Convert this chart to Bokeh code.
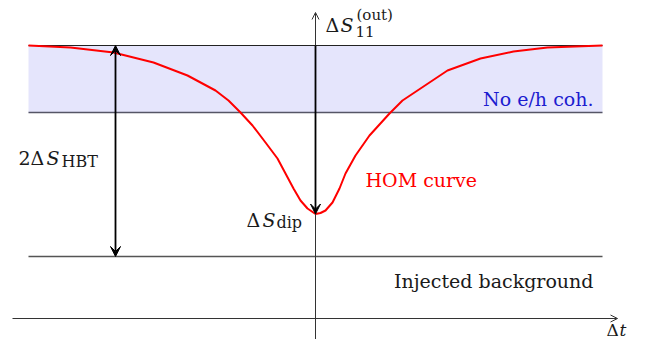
from bokeh.plotting import figure
from bokeh.models import Range1d, Arrow, OpenHead, VeeHead, Label
from bokeh.embed import file_html
from bokeh.resources import INLINE

# ---- data (t: delay, S: noise, arbitrary units) ----
hom_t = [-2.87, -2.45, -2.02, -1.62, -1.28, -1.00, -0.87, -0.75, -0.63, -0.50,
         -0.38, -0.30, -0.22, -0.15, -0.08, 0.0, 0.05, 0.10, 0.17, 0.24,
         0.30, 0.40, 0.54, 0.74, 0.87, 1.02, 1.32, 1.65, 1.98, 2.32, 2.87]
hom_s = [2.73, 2.71, 2.66, 2.56, 2.43, 2.28, 2.18, 2.06, 1.93, 1.76,
         1.60, 1.45, 1.30, 1.18, 1.10, 1.045, 1.055, 1.08, 1.16, 1.30,
         1.45, 1.63, 1.83, 2.05, 2.18, 2.28, 2.48, 2.60, 2.67, 2.71, 2.73]

level_no_coh_top = 2.73      # plateau (no e/h coherence, upper edge)
level_no_coh_bottom = 2.06   # lower edge of the "No e/h coh." band
level_background = 0.62      # injected background
level_dip = 1.045            # HOM dip value
t_span = [-2.87, 2.87]       # horizontal extent of the level lines
t_hbt = -2.0                 # position of the 2ΔS_HBT arrow
t_axis = [-3.03, 3.02]
s_axis = [-0.29, 3.06]

TXT = "#1a1a1a"
FONT = "DejaVu Serif"

p = figure(width=641, height=339,
           x_range=Range1d(-3.15, 3.26), y_range=Range1d(-0.21, 3.18),
           output_backend="svg", toolbar_location=None,
           x_axis_location=None, y_axis_location=None, min_border=0)
p.grid.visible = False
p.outline_line_color = None
p.background_fill_color = "white"
p.border_fill_color = "white"

# band "No e/h coh."
p.varea(x=t_span, y1=[level_no_coh_bottom] * 2, y2=[level_no_coh_top] * 2,
        fill_color="#e5e5fc")
p.line(t_span, [level_no_coh_top] * 2, line_color="#222222", line_width=1)
p.line(t_span, [level_no_coh_bottom] * 2, line_color="#555566", line_width=1.4)
p.line(t_span, [level_background] * 2, line_color="#555555", line_width=1.3)

# HOM curve
p.line(hom_t, hom_s, line_color="red", line_width=2, line_join="round")

# axes with open arrow heads
p.add_layout(Arrow(x_start=t_axis[0], y_start=0, x_end=t_axis[1], y_end=0,
                   line_color="#333333", line_width=1,
                   end=OpenHead(size=7, line_color="#333333", line_width=1)))
p.add_layout(Arrow(x_start=0, y_start=s_axis[0], x_end=0, y_end=s_axis[1],
                   line_color="#333333", line_width=1,
                   end=OpenHead(size=7, line_color="#333333", line_width=1)))

# thick arrows
p.add_layout(Arrow(x_start=t_hbt, y_start=level_background, x_end=t_hbt, y_end=level_no_coh_top,
                   line_color="black", line_width=1.8,
                   start=VeeHead(size=10, fill_color="black", line_color="black"),
                   end=VeeHead(size=10, fill_color="black", line_color="black")))
p.add_layout(Arrow(x_start=0, y_start=level_no_coh_top, x_end=0, y_end=level_dip,
                   line_color="black", line_width=1.8,
                   end=VeeHead(size=10, fill_color="black", line_color="black")))


def lab(px, py, text, size=19, style="normal", color=TXT, align="left"):
    p.add_layout(Label(x=(px - 315) / 100, y=(318 - py) / 100, text=text,
                       text_font=FONT, text_font_size=f"{size}px",
                       text_font_style=style, text_color=color,
                       text_baseline="alphabetic", text_align=align))


# 2ΔS_HBT
lab(18, 157, "2")
lab(30, 157, "Δ")
lab(46, 157, "S", style="italic")
lab(61, 160.5, "HBT", size=16)
# ΔS_dip
lab(246, 219, "Δ")
lab(262, 219, "S", style="italic")
lab(276, 222, "dip", size=16)
# ΔS_11^(out)
lab(325, 24, "Δ")
lab(340, 24, "S", style="italic")
lab(355, 31, "11", size=15)
lab(356, 14, "(out)", size=15)
# Δt
lab(606, 329, "Δ", size=17)
lab(619, 329, "t", size=17, style="italic")

lab(593, 280, "Injected background", align="right")
lab(593, 98, "No e/h coh.", color="#1c1cd0", align="right")
lab(365, 179, "HOM curve", color="red")

open("out.html", "w").write(file_html(p, INLINE))
